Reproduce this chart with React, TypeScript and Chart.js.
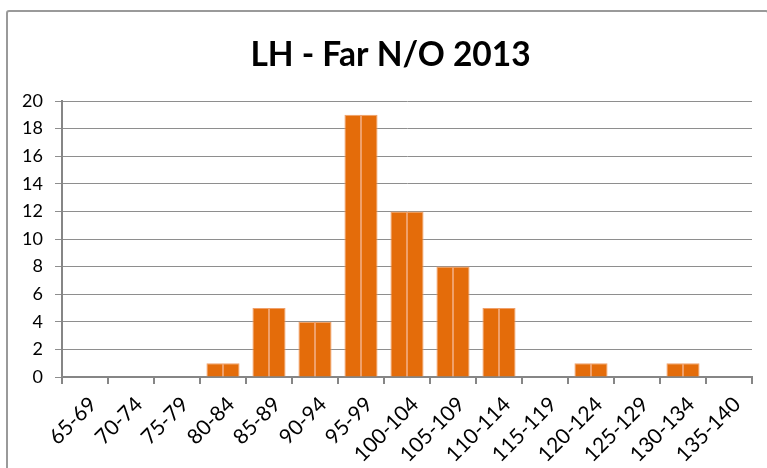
import React, { useEffect, useRef } from "react";
import { Chart, registerables } from "chart.js";

Chart.register(...registerables);

const categories = ["65-69","70-74","75-79","80-84","85-89","90-94","95-99","100-104","105-109","110-114","115-119","120-124","125-129","130-134","135-140"];
const seriesA = [0,0,0,1,5,4,19,12,8,5,0,1,0,1,0];
const seriesB = [0,0,0,1,5,4,19,12,8,5,0,1,0,1,0];
const titleText = "LH - Far N/O 2013";
const yMax = 20;
const yStep = 2;

const FONT = "Lato, 'Liberation Sans', sans-serif";

const shiftTitle = {
  id: "shiftTitle",
  afterLayout(chart: any) {
    if (chart.titleBlock) chart.titleBlock.left += 21;
  },
};

export default function App() {
  const ref = useRef<HTMLCanvasElement>(null);
  useEffect(() => {
    const H = 458;
    const chart = new Chart(ref.current!, {
      type: "bar",
      data: {
        labels: categories,
        datasets: [
          { data: seriesA, backgroundColor: "#E46C0A", borderColor: "#F0A06A", borderWidth: 1, borderSkipped: "start", barPercentage: 1, categoryPercentage: 0.72 },
          { data: seriesB, backgroundColor: "#E46C0A", borderColor: "#F0A06A", borderWidth: 1, borderSkipped: "start", barPercentage: 1, categoryPercentage: 0.72 },
        ],
      },
      plugins: [shiftTitle],
      options: {
        animation: false,
        responsive: false,
        maintainAspectRatio: false,
        layout: { padding: { left: 0, right: 15, top: 0, bottom: 0 } },
        plugins: {
          legend: { display: false },
          tooltip: { enabled: false },
          title: {
            display: true,
            text: titleText,
            color: "#000",
            font: { family: FONT, size: 33.5, weight: "bold" },
            padding: { top: 23, bottom: 25.8 },
          },
        },
        scales: {
          x: {
            offset: true,
            border: { display: true, color: "#868686", width: 2 },
            grid: { display: true, drawOnChartArea: false, drawTicks: true, tickLength: 7, color: "#868686", lineWidth: 2, offset: true },
            ticks: { color: "#000", font: { family: FONT, size: 21 }, minRotation: 45, maxRotation: 45, autoSkip: false, padding: 8, labelOffset: 8 },
            afterFit: (s: any) => { s.height = H - 365; },
          },
          y: {
            min: 0,
            max: yMax,
            border: { display: true, color: "#868686", width: 2 },
            grid: { color: "#8e8e8e", lineWidth: 1, tickLength: 7 },
            ticks: { stepSize: yStep, color: "#000", font: { family: FONT, size: 18 }, padding: 12 },
            afterFit: (s: any) => { s.width = 54; },
          },
        },
      },
    });
    return () => chart.destroy();
  }, []);
  return (
    <div style={{ position: "fixed", left: 6, top: 10, width: 759, height: 458, border: "2px solid #9a9a9a", borderRadius: 3, background: "#fff" }}>
      <canvas ref={ref} width={759} height={458} style={{ display: "block" }} />
    </div>
  );
}
